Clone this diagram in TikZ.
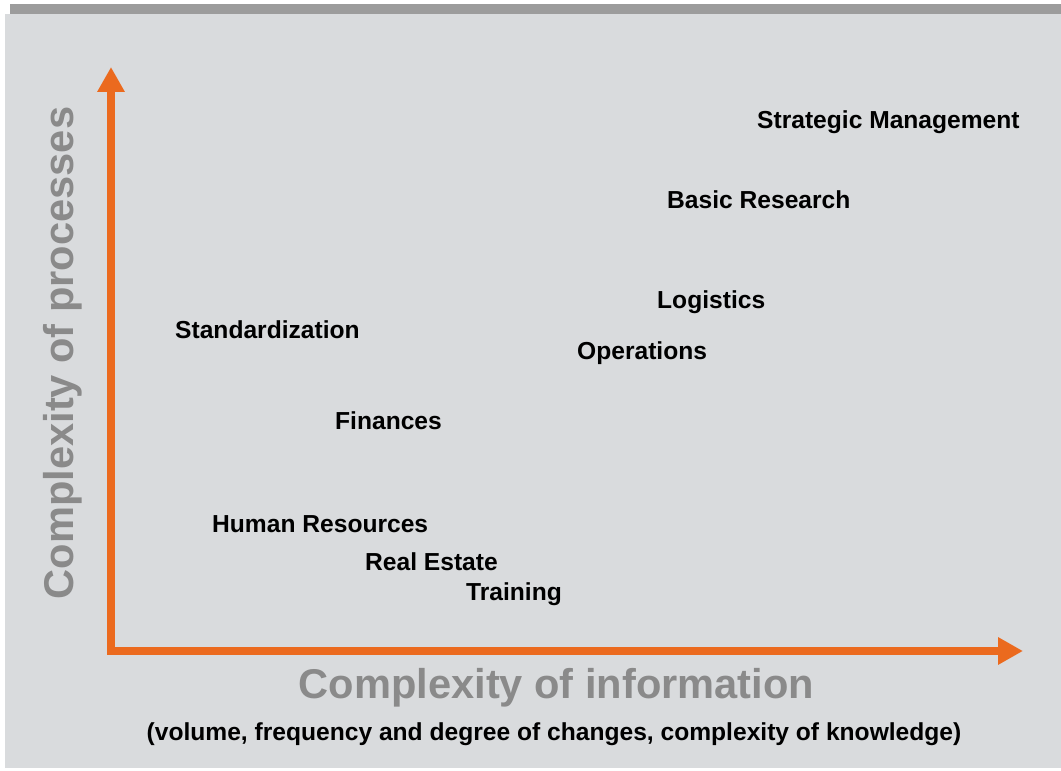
\documentclass[tikz,border=0pt]{standalone}
\usepackage{fontspec}
\setmainfont{Liberation Sans}
\usetikzlibrary{arrows.meta}
\definecolor{panelgray}{HTML}{D9DBDD}
\definecolor{bargray}{HTML}{9C9C9C}
\definecolor{axisorange}{HTML}{EB6A1E}
\definecolor{titlegray}{HTML}{8A8A8A}
\tikzset{
	area/.style={font=\fontsize{24.6}{28}\selectfont\bfseries,anchor=base west,inner sep=0pt},
	axislabel/.style={font=\fontsize{41.6}{46}\selectfont\bfseries,text=titlegray,anchor=base,inner sep=0pt}
}
\begin{document}
\begin{tikzpicture}[>={Triangle[width=26pt,length=25pt]},x=1pt,y=1pt]
			\fill[white] (0,0) rectangle (1061,771);
			\useasboundingbox (0,0) rectangle (1061,771);
			\fill[panelgray] (5,3) rectangle (1061,757);
			\fill[bargray] (10,757) rectangle (1061,767); % top bar
			\coordinate (O) at (111,120);
			\coordinate (ytip) at (111,704);
			\coordinate (xtip) at (1023,120);
			\draw[axisorange,line width=8pt,<->] (ytip) |- (xtip); % axes
			\node[axislabel] (xlab) at (556.5,72) {Complexity of information};
			\node[area,anchor=base] (xsub) at (554,30) {(volume, frequency and degree of changes, complexity of knowledge)};
			\node[axislabel,rotate=90] (ylab) at (73,418) {Complexity of processes};
			\node[area] (strat) at (757,642) {Strategic Management};
			\node[area] (research) at (667,562) {Basic Research};
			\node[area] (logist) at (657,462) {Logistics};
			\node[area] (standard) at (175,432) {Standardization};
			\node[area] (oper) at (577,411) {Operations};
			\node[area] (finance) at (335,341) {Finances};
			\node[area] (hr) at (212,238) {Human Resources};
			\node[area] (estate) at (365,200) {Real Estate};
			\node[area] (train) at (466,170) {Training};
		\end{tikzpicture}
\end{document}
